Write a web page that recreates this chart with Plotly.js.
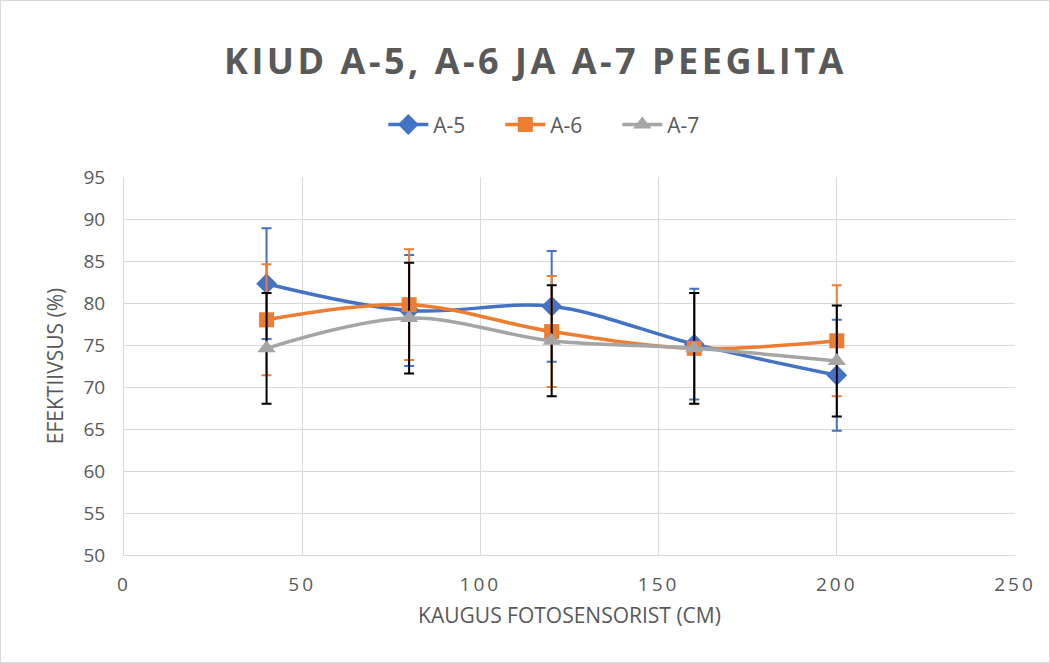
<!DOCTYPE html>
<html>
<head>
<meta charset="utf-8">
<script src="https://cdn.plot.ly/plotly-3.0.1.min.js"></script>
<style>
html,body{margin:0;padding:0;background:#fff;}
#chart{width:1050px;height:663px;box-sizing:border-box;border:1px solid #d9d9d9;}
</style>
</head>
<body>
<div id="chart"></div>
<script>
const distances = [40, 80, 120, 160, 200];
const seriesNames = ['A-5', 'A-6', 'A-7'];
const a5 = [82.3, 79.1, 79.6, 75.1, 71.4];
const a6 = [78.0, 79.8, 76.6, 74.6, 75.5];
const a7 = [74.6, 78.2, 75.5, 74.6, 73.1];
const a5err = [6.6, 6.6, 6.6, 6.6, 6.6];
const a6err = [6.6, 6.6, 6.6, 6.6, 6.6];
const a7err = [6.6, 6.6, 6.6, 6.6, 6.6];

const FONT = '"Open Sans", "Noto Sans", sans-serif';

function mk(name, y, err, color, errColor, symbol, size) {
  return {
    type: 'scatter', mode: 'lines+markers', name: name,
    x: distances, y: y,
    line: {color: color, width: 3.5, shape: 'spline', smoothing: 1},
    marker: {symbol: symbol, size: size, color: color},
    error_y: {type: 'data', array: err, symmetric: true, color: errColor, thickness: 2, width: 5}
  };
}

const data = [
  mk(seriesNames[0], a5, a5err, '#4472C4', '#4472C4', 'diamond', 16),
  mk(seriesNames[1], a6, a6err, '#ED7D31', '#ED7D31', 'square', 15),
  mk(seriesNames[2], a7, a7err, '#A5A5A5', '#000000', 'triangle-up', 16)
];

const layout = {
  width: 1048, height: 661,
  margin: {l: 123, r: 34, t: 176, b: 107},
  paper_bgcolor: '#ffffff', plot_bgcolor: '#ffffff',
  font: {family: FONT, color: '#595959'},
  title: {
    text: 'KIUD A-5, A-6 JA A-7 PEEGLITA',
    font: {family: FONT, size: 36, color: '#595959', weight: 'bold'},
    x: 0.51, xanchor: 'center', y: 0.909, yanchor: 'middle', yref: 'container'
  },
  showlegend: true,
  legend: {
    orientation: 'h', x: 0.488, xanchor: 'center', y: 1.138, yanchor: 'middle',
    font: {family: FONT, size: 21, color: '#595959'},
    itemwidth: 40, entrywidth: 62, entrywidthmode: 'pixels', traceorder: 'normal'
  },
  xaxis: {
    range: [0, 250], dtick: 50, tick0: 0,
    showgrid: true, gridcolor: '#d9d9d9', gridwidth: 1,
    zeroline: false, showline: true, linecolor: '#d9d9d9', linewidth: 1,
    ticks: 'outside', ticklen: 12, tickcolor: 'rgba(0,0,0,0)',
    tickfont: {family: FONT, size: 19, color: '#595959'},
    title: {text: 'KAUGUS FOTOSENSORIST (CM)', font: {family: FONT, size: 21, color: '#595959'}, standoff: 12}
  },
  yaxis: {
    range: [50, 95], dtick: 5, tick0: 50,
    showgrid: true, gridcolor: '#d9d9d9', gridwidth: 1,
    zeroline: false, showline: true, linecolor: '#d9d9d9', linewidth: 1,
    ticks: 'outside', ticklen: 14, tickcolor: 'rgba(0,0,0,0)',
    tickfont: {family: FONT, size: 19, color: '#595959'},
    title: {text: 'EFEKTIIVSUS (%)', font: {family: FONT, size: 21, color: '#595959'}, standoff: 14}
  }
};

Plotly.newPlot('chart', data, layout, {displayModeBar: false, staticPlot: true}).then(function () {
  const t = document.querySelector('.gtitle');
  if (t) t.style.letterSpacing = '3.5px';
  document.querySelectorAll('.xtick text').forEach(function (el) { el.style.letterSpacing = '3px'; });
});
</script>
</body>
</html>
